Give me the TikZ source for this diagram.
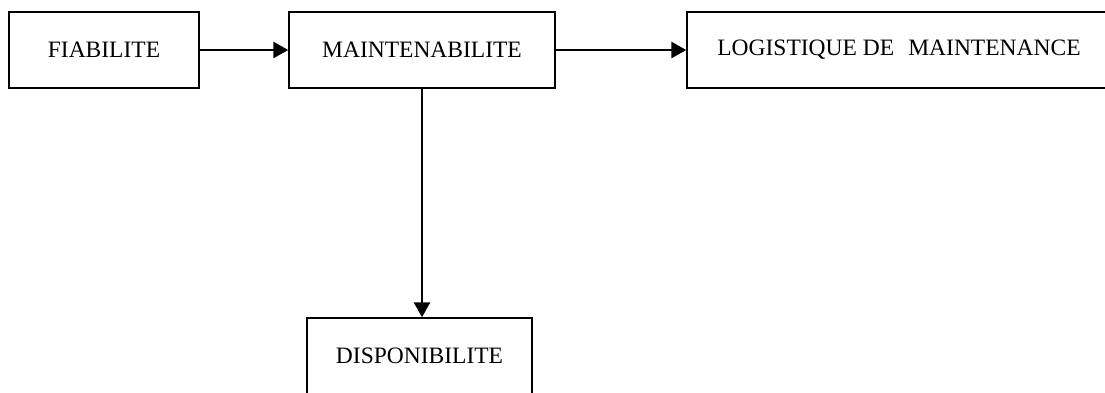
\documentclass[tikz,border=0pt]{standalone}
\usepackage{fontspec}
\setmainfont{Liberation Serif}
\usetikzlibrary{arrows.meta}
\begin{document}
\begin{tikzpicture}[x=1pt,y=-1pt,
  box/.style={draw, line width=1.4pt, minimum height=76pt, inner sep=0pt,
    font=\fontsize{23.5}{28}\selectfont},
  link/.style={line width=2.6pt, -{Triangle[length=15pt,width=16pt]}}]
  \fill[white] (0,0) rectangle (1105,392);
  \clip (0,0) rectangle (1105,392);
  \node[box, minimum width=190pt] (fia) at (104,50) {FIABILITE};
  \node[box, minimum width=266pt] (mai) at (422,50) {MAINTENABILITE};
  \node[box, minimum width=424pt] (log) at (899,50) {LOGISTIQUE DE\hspace{0.6em}MAINTENANCE};
  \node[box, minimum width=225pt] (dis) at (419.5,356) {DISPONIBILITE};
  \draw[link] (fia.east) -- (mai.west);
  \draw[link] (mai.east) -- (log.west);
  \draw[link] (mai.south) -- (mai.south |- dis.north);
\end{tikzpicture}
\end{document}
